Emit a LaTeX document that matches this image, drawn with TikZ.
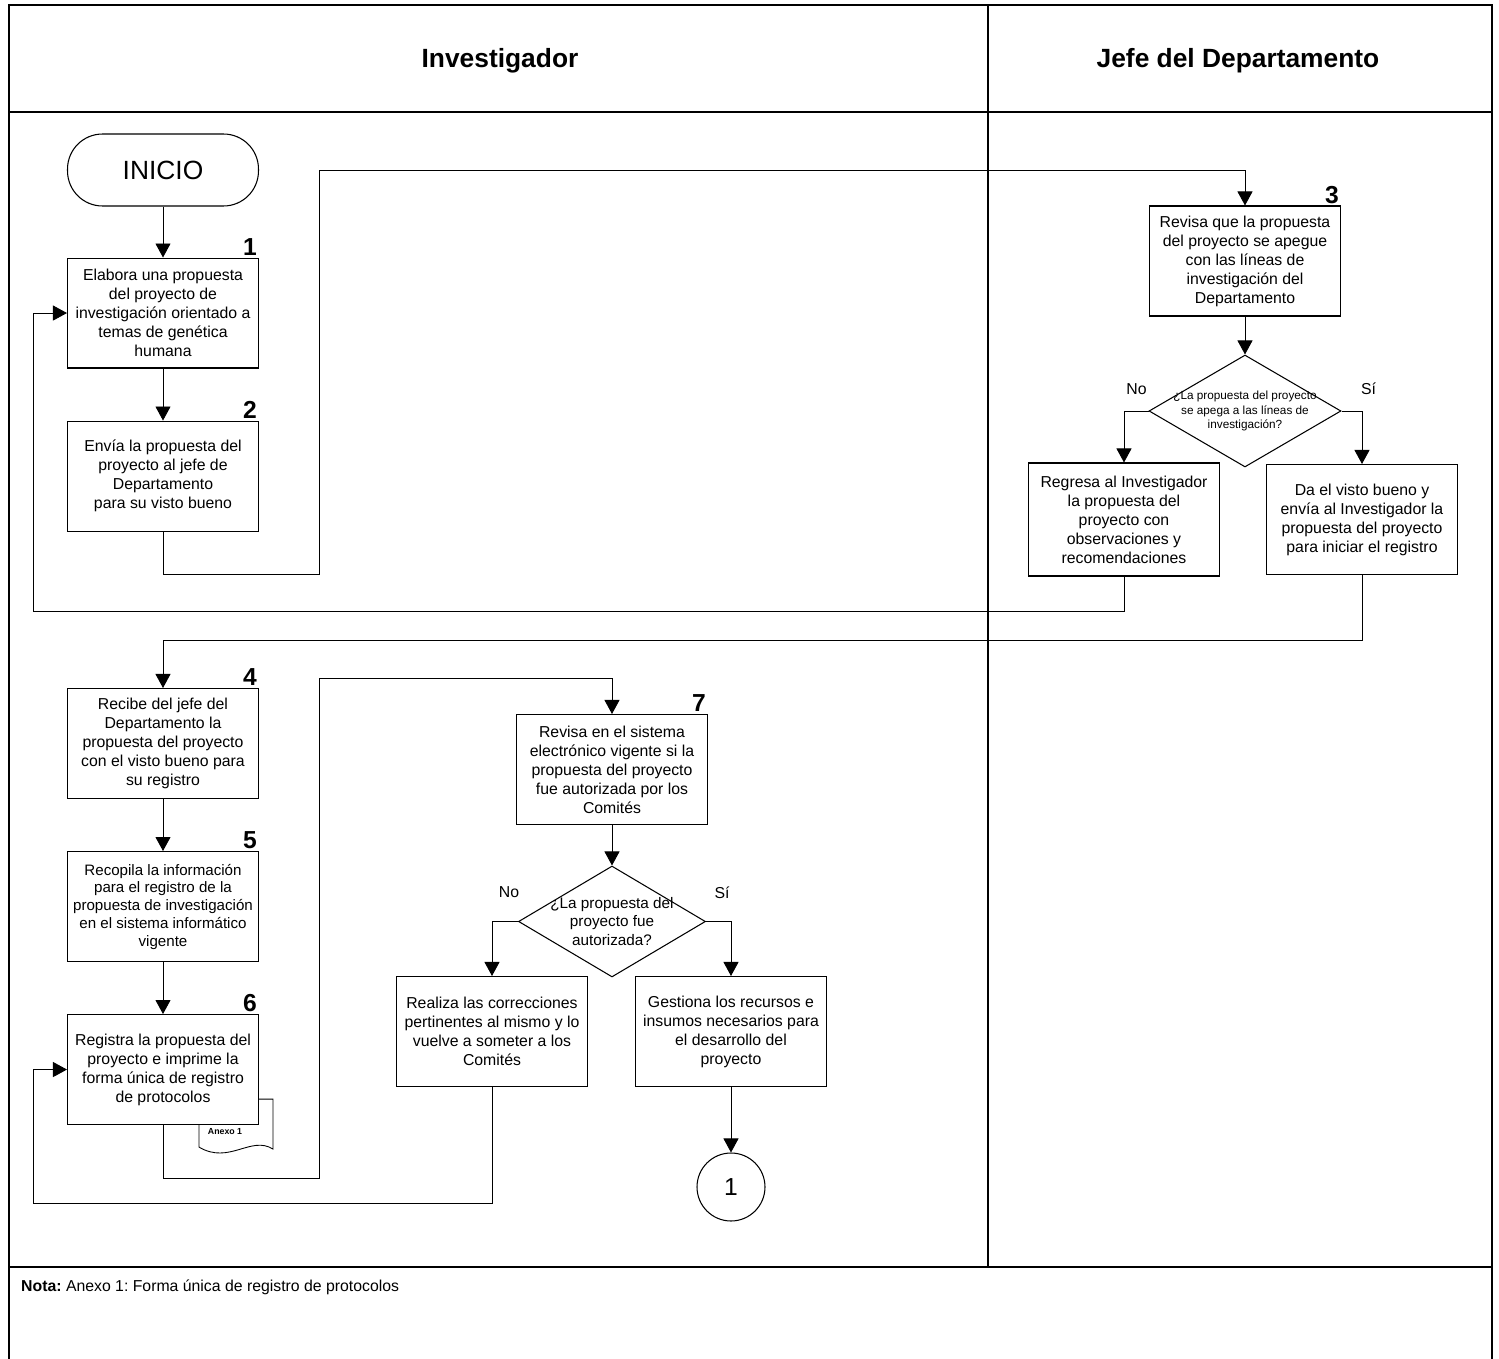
\documentclass[tikz,border=0pt]{standalone}
\usepackage{fontspec}
\setmainfont{Liberation Sans}
\frenchspacing
\usetikzlibrary{arrows.meta,positioning,calc,shapes.geometric,backgrounds}
\tikzset{
  box/.style={draw, line width=0.6pt, fill=white, align=center,
              font=\fontsize{9}{10.8}\selectfont, minimum width=3.82cm, minimum height=2.2cm, inner sep=2pt},
  term/.style={draw, line width=0.6pt, rounded corners=0.7cm, minimum width=3.82cm,
               minimum height=1.44cm, font=\fontsize{15}{18}\selectfont},
  dec/.style={diamond, draw, line width=0.6pt, fill=white, aspect=1.7, inner sep=-4pt, align=center},
  conn/.style={circle, draw, line width=0.6pt, minimum size=1.36cm, font=\fontsize{14}{16}\selectfont},
  num/.style={font=\fontsize{14}{16}\selectfont\bfseries, inner sep=1pt, anchor=south east},
  flow/.style={-{Triangle[length=2.8mm,width=3mm]}, line width=0.5pt},
  lane/.style={line width=1.3pt},
  lbl/.style={font=\fontsize{9}{10.8}\selectfont},
  title/.style={font=\fontsize{15}{18}\selectfont\bfseries},
}
\begin{document}
\begin{tikzpicture}[x=0.02cm, y=-0.02cm]
  \useasboundingbox (0,0) rectangle (1499,1359);
  % lanes
  \draw[lane] (9,1359) -- (9,5) -- (1492,5) -- (1492,1359);
  \draw[lane] (9,112) -- (1492,112);
  \draw[lane] (9,1267) -- (1492,1267);
  \draw[lane] (988,5) -- (988,1267);
  \node[title] (tinv) at (500,61) {Investigador};
  \node[title] (tjef) at (1238,61) {Jefe del Departamento};
  \node[font=\fontsize{9}{11}\selectfont, anchor=west] (nota) at (15,1287)
    {\textbf{Nota:} Anexo 1: Forma única de registro de protocolos};

  % Investigador, first part
  \node[term] (ini) at (163,170) {INICIO};
  \node[box, below=10.2mm of ini] (p1) {Elabora una propuesta\\del proyecto de\\investigación orientado a\\temas de genética\\humana};
  \node[box, below=10.4mm of p1] (p2) {Envía la propuesta del\\proyecto al jefe de\\Departamento\\para su visto bueno};
  \node[num] at (p1.north east) {1};
  \node[num] at (p2.north east) {2};

  % Jefe del Departamento
  \node[box] (p3) at (1245,261) {Revisa que la propuesta\\del proyecto se apegue\\con las líneas de\\investigación del\\Departamento};
  \node[num] at (p3.north east) {3};
  \node[dec, minimum width=3.84cm, minimum height=2.24cm, font=\fontsize{6.7}{8}\selectfont] (d1) at (1245,411)
    {¿La propuesta del proyecto\\se apega a las líneas de\\investigación?};
  \node[box, minimum height=2.26cm] (no1) at (1124,519.5) {Regresa al Investigador\\la propuesta del\\proyecto con\\observaciones y\\recomendaciones};
  \node[box] (si1) at (1362,519.5) {Da el visto bueno y\\envía al Investigador la\\propuesta del proyecto\\para iniciar el registro};
  \node[lbl] (lno1) at ($(d1.west)+(-12,-22)$) {No};
  \node[lbl] (lsi1) at ($(d1.east)+(27,-22)$) {Sí};

  % Investigador, second part
  \node[box] (p4) at (163,743.5) {Recibe del jefe del\\Departamento la\\propuesta del proyecto\\con el visto bueno para\\su registro};
  \node[box, below=10.4mm of p4, font=\fontsize{8.6}{10.1}\selectfont] (p5) {Recopila la información\\para el registro de la\\propuesta de investigación\\en el sistema informático\\vigente};
  \node[box, below=10.4mm of p5] (p6) {Registra la propuesta del\\proyecto e imprime la\\forma única de registro\\de protocolos};
  \node[num] at (p4.north east) {4};
  \node[num] at (p5.north east) {5};
  \node[num] at (p6.north east) {6};
  \coordinate (doc) at ($(p6.south east)+(-60,-26)$);
  \begin{scope}[on background layer]
    \draw[line width=0.5pt, fill=white] (doc) -- ($(doc)+(74,0)$) -- ($(doc)+(74,50)$)
      .. controls ($(doc)+(52,36)$) and ($(doc)+(30,66)$) .. ($(doc)+(0,48)$) -- cycle;
  \end{scope}
  \node[font=\fontsize{5}{6}\selectfont\bfseries] (anexo) at ($(doc)+(26,32)$) {Anexo 1};

  \node[box] (p7) at (612,769.5) {Revisa en el sistema\\electrónico vigente si la\\propuesta del proyecto\\fue autorizada por los\\Comités};
  \node[num] at (p7.north east) {7};
  \node[dec, minimum width=3.74cm, minimum height=2.22cm, font=\fontsize{8.7}{10.5}\selectfont] (d2) at (612,921.5)
    {¿La propuesta del\\proyecto fue\\autorizada?};
  \node[box] (rc) at (492,1031.5) {Realiza las correcciones\\pertinentes al mismo y lo\\vuelve a someter a los\\Comités};
  \node[box] (gs) at (731,1031.5) {Gestiona los recursos e\\insumos necesarios para\\el desarrollo del\\proyecto};
  \node[lbl] (lno2) at ($(d2.west)+(-9,-29)$) {No};
  \node[lbl] (lsi2) at ($(d2.east)+(16,-29)$) {Sí};
  \node[conn] (fin) at (731,1187) {1};

  % connectors
  \draw[flow] (ini) -- (p1);
  \draw[flow] (p1) -- (p2);
  \draw[flow] (p2.south) -- ++(0,43) -| (319,170) -| (p3.north);
  \draw[flow] (p3) -- (d1);
  \draw[flow] (d1.west) -| (no1.north);
  \draw[flow] (d1.east) -| (si1.north);
  \draw[flow] (no1.south) |- (33,611) |- (p1.west);
  \draw[flow] (si1.south) -- ++(0,65) -| (p4.north);
  \draw[flow] (p4) -- (p5);
  \draw[flow] (p5) -- (p6);
  \draw[flow] (p6.south) -- ++(0,53) -| (319,678) -| (p7.north);
  \draw[flow] (p7) -- (d2);
  \draw[flow] (d2.west) -| (rc.north);
  \draw[flow] (d2.east) -| (gs.north);
  \draw[flow] (rc.south) |- (33,1203) |- (p6.west);
  \draw[flow] (gs) -- (fin);
\end{tikzpicture}
\end{document}
